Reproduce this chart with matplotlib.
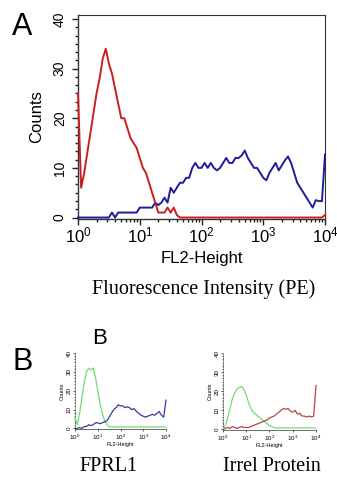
import numpy as np
import matplotlib
matplotlib.use("Agg")
import matplotlib.pyplot as plt
from matplotlib.ticker import AutoMinorLocator, LogLocator, NullFormatter

plt.rcParams['font.family'] = ['Liberation Sans', 'DejaVu Sans']
plt.rcParams['mathtext.default'] = 'regular'

# --- data (log10 of FL2-Height channel, counts) ---
# panel A, step 0.05 decades
logx_a = np.arange(0, 4.0001, 0.05)
isotype_a = [25, 6, 9, 13, 17, 21, 25, 28, 32, 34,
             31, 29, 26, 23, 20, 20, 18, 16, 15, 14,
             12, 10, 9, 7, 5, 3, 1, 1, 1, 2,
             1, 2, 0.5, 0, 0, 0, 0, 0, 0, 0,
             0, 0, 0, 0, 0, 0, 0, 0, 0, 0,
             0, 0, 0, 0, 0, 0, 0, 0, 0, 0,
             0, 0, 0, 0, 0, 0, 0, 0, 0, 0,
             0, 0, 0, 0, 0, 0, 0, 0, 0, 0, 0.5]
fprl1_a = [0, 0, 0, 0, 0, 0, 0, 0, 0, 0,
           0, 1, 0, 1, 1, 1, 1, 1, 1, 1,
           2, 2, 2, 2, 2, 3, 2.5, 3, 4, 3,
           6, 5, 6, 7, 7, 8, 8, 10, 11, 10,
           10, 11, 10, 11, 10, 9.5, 10, 11, 12, 11,
           11, 12, 12, 12.5, 13.5, 12, 11, 10, 10, 9,
           8, 7.5, 9, 10, 11, 9.5, 10.5, 11.5, 12.3, 11,
           9, 7, 6, 5, 4, 3, 2, 3.5, 3.3, 3.3, 12.7]

# panel B insets, step 0.1 decades
logx_b = np.arange(0, 4.0001, 0.1)
ctrl_fprl1 = [6, 2, 8, 16, 24, 30, 32, 31, 32, 27,
              20, 13, 8, 4, 2, 1, 0.8, 0.8, 0.8, 0.8,
              0.8, 0.8, 0.8, 0.8, 0.8, 0.8, 0.8, 0.8, 0.8, 0.8,
              0.8, 0.8, 0.8, 0.8, 0.8, 0.8, 0.8, 0.8, 0.8, 0.8, 0.8]
fprl1_b = [0, 0, 0.5, 0, 1, 1, 2, 1.5, 2, 3,
           3, 2.5, 3, 3.5, 4, 6, 8, 10, 11, 12.5,
           12, 12, 11, 11.5, 11, 10, 10.5, 9, 8, 7,
           6.5, 6, 6.5, 7, 7.5, 7, 8, 9, 7, 6, 15]
ctrl_irrel = [0, 2, 6, 11, 16, 19, 21, 22, 22.5, 21,
              18, 14, 11, 9, 8, 7, 6, 5, 4, 3,
              2, 1.5, 1, 0.8, 0.8, 0.8, 0.8, 0.8, 0.8, 0.8,
              0.8, 0.8, 0.8, 0.8, 0.8, 0.8, 0.8, 0.8, 0.8, 0.8, 0.8]
irrel_b = [0, 0.5, 1, 0.5, 1.5, 1, 0.5, 1, 1.5, 1,
           1, 1, 1.5, 2, 2.5, 3, 3.5, 4, 4.5, 5,
           6, 6.5, 7, 8, 9, 10, 11, 10.5, 11, 9.5,
           9, 10, 8, 8.5, 7, 7, 6.5, 7, 6.5, 7, 23]

xtick_labels = ['$10^{0}$', '$10^{1}$', '$10^{2}$', '$10^{3}$', '$10^{4}$']
ytick_vals = [0, 10, 20, 30, 40]

fig = plt.figure(figsize=(3.37, 4.84), dpi=100)


def style_axes(ax, fs, ylab_fs, tick_len, lw, ymax, ypad=1):
    ax.set_xscale('log')
    ax.set_xlim(1, 1e4)
    ax.set_ylim(-0.3, ymax)
    ax.set_xticks([1, 10, 100, 1000, 10000])
    ax.set_xticklabels(xtick_labels, fontsize=fs)
    ax.xaxis.set_minor_locator(LogLocator(base=10, subs=np.arange(2, 10)))
    ax.xaxis.set_minor_formatter(NullFormatter())
    ax.set_yticks(ytick_vals)
    ax.set_yticklabels([str(v) for v in ytick_vals], fontsize=ylab_fs,
                       rotation=90, va='center')
    ax.yaxis.set_minor_locator(AutoMinorLocator(6))
    ax.tick_params(which='major', direction='out', length=tick_len,
                   width=lw, color='#222222', pad=1)
    ax.tick_params(axis='y', which='major', pad=ypad)
    ax.tick_params(which='minor', direction='out', length=tick_len * 0.6,
                   width=lw, color='#222222')
    for s in ax.spines.values():
        s.set_linewidth(lw)
        s.set_color('#333333')


# ---------------- panel A ----------------
ax = fig.add_axes([0.2315, 0.5475, 0.733, 0.4215])
ax.plot(10 ** logx_a, fprl1_a, color='#1c1c9c', lw=1.4, clip_on=False, zorder=3)
ax.plot(10 ** logx_a, isotype_a, color='#c8201e', lw=1.4, clip_on=False, zorder=3)
style_axes(ax, 12, 10, 4, 1.0, 40.8, ypad=4)
ax.set_ylabel('Counts', fontsize=12, labelpad=6)
ax.set_xlabel('FL2-Height', fontsize=12, labelpad=4)
ax.spines['top'].set_linewidth(0.8)
ax.spines['right'].set_linewidth(0.8)

fig.text(0.065, 0.945, 'A', fontsize=22, ha='center', va='center')
fig.text(0.604, 0.403, 'Fluorescence Intensity (PE)', fontsize=14.5,
         family=['Liberation Serif', 'DejaVu Serif'], ha='center', va='center')

# ---------------- panel B ----------------
fig.text(0.068, 0.252, 'B', fontsize=22, ha='center', va='center')
fig.text(0.294, 0.3, 'B', fontsize=16, ha='center', va='center')

insets = [
    ([0.2226, 0.1136, 0.27, 0.157], ctrl_fprl1, fprl1_b, '#3a3a98', 'FPRL1', 0.323),
    ([0.6617, 0.1116, 0.276, 0.159], ctrl_irrel, irrel_b, '#b04848', 'Irrel Protein', 0.807),
]
for pos, ctrl, sample, col, name, tx in insets:
    bx = fig.add_axes(pos)
    bx.plot(10 ** logx_b, ctrl, color='#72de72', lw=0.9, clip_on=False, zorder=3)
    bx.plot(10 ** logx_b, sample, color=col, lw=0.9, clip_on=False, zorder=3)
    style_axes(bx, 4.5, 4.5, 1.5, 0.5, 40)
    bx.spines['top'].set_visible(False)
    bx.spines['right'].set_visible(False)
    bx.spines['left'].set_linestyle(':')
    bx.set_ylabel('Counts', fontsize=4, labelpad=1)
    bx.set_xlabel('FL2-Height', fontsize=4, labelpad=0.5)
    fig.text(tx, 0.037, name, fontsize=14.5,
             family=['Liberation Serif', 'DejaVu Serif'], ha='center', va='center')

fig.savefig('out.png', dpi=100)
